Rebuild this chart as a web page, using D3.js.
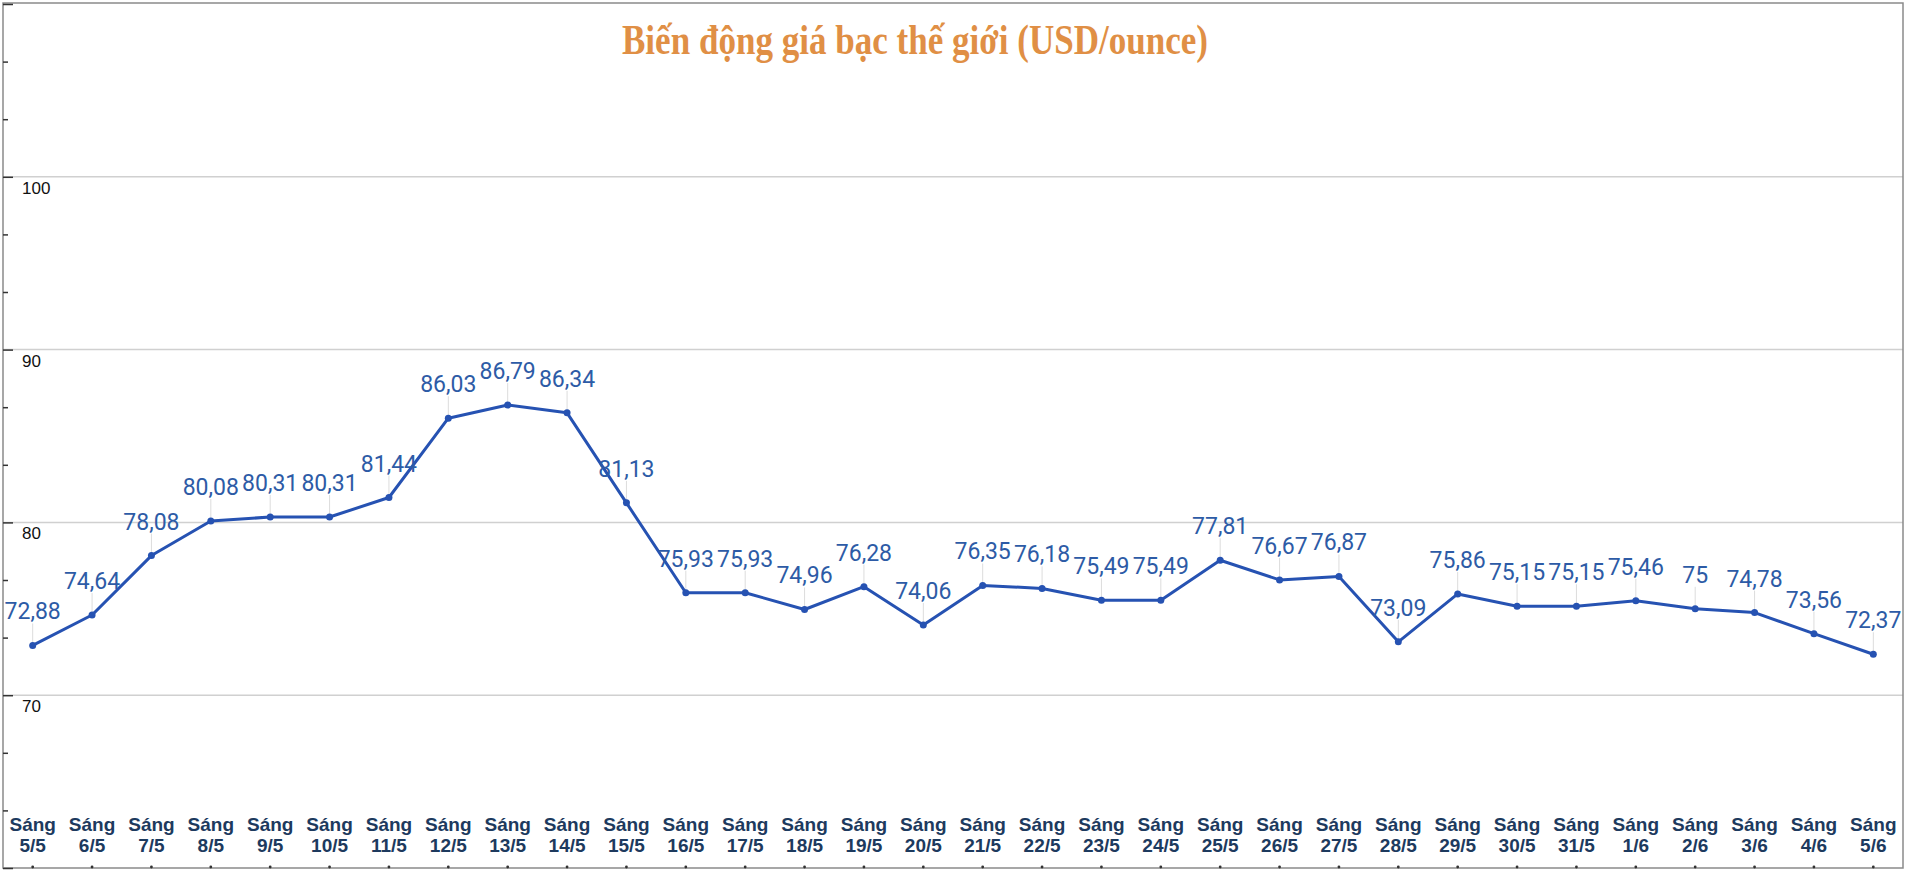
<!DOCTYPE html>
<html>
<head>
<meta charset="utf-8">
<script src="https://cdn.jsdelivr.net/npm/d3@7"></script>
<style>
  body { margin: 0; background: #fff; }
  svg { display: block; }
</style>
</head>
<body>
<svg id="chart" width="1906" height="875"></svg>
<script>
// data
var dates = ["5/5","6/5","7/5","8/5","9/5","10/5","11/5","12/5","13/5","14/5","15/5","16/5",
  "17/5","18/5","19/5","20/5","21/5","22/5","23/5","24/5","25/5","26/5","27/5","28/5",
  "29/5","30/5","31/5","1/6","2/6","3/6","4/6","5/6"];
var prices = [72.88,74.64,78.08,80.08,80.31,80.31,81.44,86.03,86.79,86.34,81.13,75.93,
  75.93,74.96,76.28,74.06,76.35,76.18,75.49,75.49,77.81,76.67,76.87,73.09,
  75.86,75.15,75.15,75.46,75,74.78,73.56,72.37];
var gridValues = [70, 80, 90, 100];
var yDomain = [60, 110];
var dayPrefix = "Sáng";
var title = "Biến động giá bạc thế giới (USD/ounce)";

var svg = d3.select("#chart");
// note: "top" is taken by window.top, so use other names
var plotL = 3, plotR = 1903, plotT = 4, plotB = 868;

var x = d3.scalePoint().domain(dates).range([plotL, plotR]).padding(0.5);
var y = d3.scaleLinear().domain(yDomain).range([plotB, plotT]);

/* gridlines */
svg.append("g").selectAll("line").data(gridValues).enter().append("line")
  .attr("x1", plotL).attr("x2", plotR)
  .attr("y1", function(d) { return y(d); }).attr("y2", function(d) { return y(d); })
  .attr("stroke", "#d0d0d0").attr("stroke-width", 1.5);

/* grid value labels, under each line */
svg.append("g").selectAll("text").data(gridValues).enter().append("text")
  .attr("x", 22).attr("y", function(d) { return y(d) + 17; })
  .attr("font-family", "Liberation Sans, Arial, sans-serif").attr("font-size", 17)
  .attr("fill", "#111").text(function(d) { return d; });

/* frame */
svg.append("rect").attr("x", plotL).attr("y", 3).attr("width", plotR - plotL).attr("height", plotB - 3)
  .attr("fill", "none").attr("stroke", "#8a8a8a").attr("stroke-width", 1.5);

/* small ticks on the left edge */
var yAxis = d3.axisRight(y).tickValues(d3.range(60, 110.01, 10 / 3)).tickSize(5).tickFormat("");
var ya = svg.append("g").attr("transform", "translate(" + plotL + ",0)").call(yAxis);
ya.select(".domain").remove();
ya.selectAll("line").attr("stroke", "#333").attr("stroke-width", 1.5);
ya.selectAll(".tick").filter(function(d) { var r = d % 10; return r < 0.01 || r > 9.99; })
  .select("line").attr("x2", 10);

/* bottom ticks */
svg.append("g").selectAll("circle").data(dates).enter().append("circle")
  .attr("cx", function(d) { return x(d); }).attr("cy", plotB - 1).attr("r", 1.4).attr("fill", "#333");

/* x labels */
var xl = svg.append("g").selectAll("text").data(dates).enter().append("text")
  .attr("text-anchor", "middle")
  .attr("font-family", "Liberation Sans, Arial, sans-serif").attr("font-weight", "bold")
  .attr("font-size", 19).attr("fill", "#1d3a5e");
xl.append("tspan").attr("x", function(d) { return x(d); }).attr("y", 831).text(dayPrefix);
xl.append("tspan").attr("x", function(d) { return x(d); }).attr("y", 852).text(function(d) { return d; });

/* leader lines */
svg.append("g").selectAll("line").data(prices).enter().append("line")
  .attr("x1", function(d, i) { return x(dates[i]); }).attr("x2", function(d, i) { return x(dates[i]); })
  .attr("y1", function(d) { return y(d) - 22; }).attr("y2", function(d) { return y(d); })
  .attr("stroke", "#dcdcdc").attr("stroke-width", 1);

/* price line */
var line = d3.line().x(function(d, i) { return x(dates[i]); }).y(function(d) { return y(d); });
svg.append("path").datum(prices).attr("d", line)
  .attr("fill", "none").attr("stroke", "#2652b2").attr("stroke-width", 3)
  .attr("stroke-linejoin", "round");

svg.append("g").selectAll("circle").data(prices).enter().append("circle")
  .attr("cx", function(d, i) { return x(dates[i]); }).attr("cy", function(d) { return y(d); })
  .attr("r", 3.5).attr("fill", "#2652b2");

/* value labels */
svg.append("g").selectAll("text").data(prices).enter().append("text")
  .attr("x", function(d, i) { return x(dates[i]); }).attr("y", function(d) { return y(d) - 26; })
  .attr("text-anchor", "middle")
  .attr("font-family", "Roboto, sans-serif").attr("font-size", 23)
  .attr("fill", "#2d5ba6")
  .text(function(d) { return String(d).replace(".", ","); });

/* title */
svg.append("text").attr("x", 622).attr("y", 54)
  .attr("textLength", 586).attr("lengthAdjust", "spacingAndGlyphs")
  .attr("font-family", "Liberation Serif, Times New Roman, serif").attr("font-weight", "bold")
  .attr("font-size", 42).attr("fill", "#e08f45")
  .text(title);
</script>
</body>
</html>
